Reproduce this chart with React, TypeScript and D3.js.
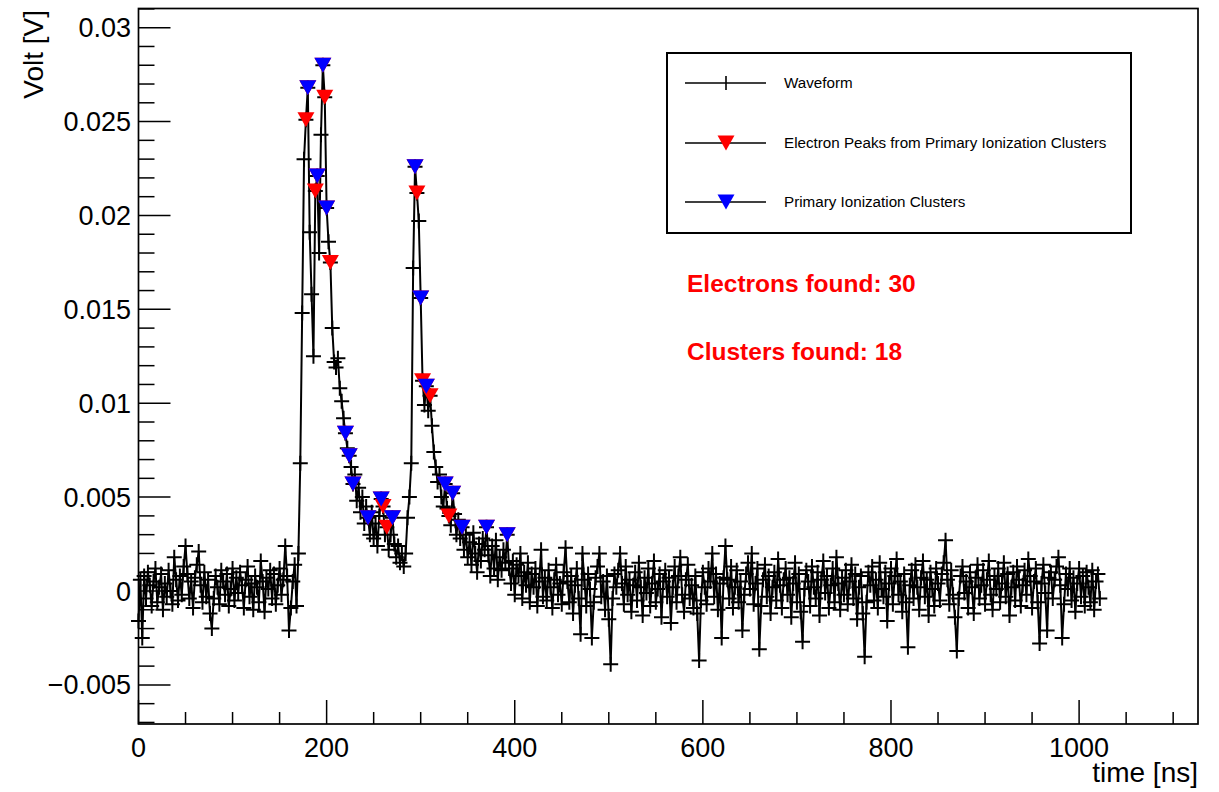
import { useRef, useEffect } from "react";
import * as d3 from "d3";

// digitiser sampling step in ns; waveform[i] is taken at t = i * sampleStepNs
const sampleStepNs = 2;

// waveform amplitude in units of 0.1 mV (1e-4 V)
const waveform = [
  // 0 ns
  -16, 6, -25, 8, -4, 10, 3, -8, 5, 12, -6, 2, 9, -10, 4, -3,
  // 32 ns
  11, 0, -7, 18, 6, -5, 8, -2, 13, 24, 9, -4, 5, -9, 7, 14,
  // 64 ns
  21, 3, -6, 10, -3, 6, -12, -20, -4, 8, 2, -7, 11, 5, -2, 9,
  // 96 ns
  -8, 1, 12, -5, 7, -1, 10, 3, -9, 6, 13, -3, 4, -10, 8, 2,
  // 128 ns
  -6, 16, 5, -11, 7, 1, 11, -4, 9, -7, 3, 12, -2, 6, 24, 8,
  // 160 ns
  -21, -9, 5, 14, -8, 20, 68, 148, 230, 251, 268, 191, 158, 125, 213, 221,
  // 192 ns
  180, 243, 280, 263, 204, 186, 175, 140, 122, 119, 124, 108, 101, 92, 84, 76,
  // 224 ns
  72, 66, 57, 62, 48, 55, 42, 50, 36, 45, 39, 30, 42, 28, 36, 24,
  // 256 ns
  40, 49, 45, 30, 34, 22, 30, 39, 25, 18, 24, 15, 20, 13, 20, 39,
  // 288 ns
  50, 68, 172, 226, 212, 197, 156, 112, 99, 109, 96, 104, 88, 74, 66, 58,
  // 320 ns
  62, 50, 45, 57, 44, 40, 35, 52, 41, 30, 38, 28, 34, 22, 30, 18,
  // 352 ns
  26, 14, 31, 20, 10, 25, 16, 28, 22, 34, 19, 8, 24, 12, 27, 6,
  // 384 ns
  18, 11, 22, 15, 30, 12, 4, 16, -2, 14, 8, 20, -4, 10, 3, 15,
  // 416 ns
  -6, 9, 2, 12, -8, 5, 22, -3, 7, -5, 11, 2, -9, 6, 14, -2,
  // 448 ns
  4, -7, 10, 23, 5, -6, 8, -12, 3, 12, -4, -23, 20, 6, -8, 9,
  // 480 ns
  1, -25, -6, 7, 13, 20, -3, 5, -10, 8, -15, -39, -4, 9, 2, 11,
  // 512 ns
  20, 4, -7, 13, -2, 6, -11, 3, 10, -5, 15, 2, -13, 7, -1, 12,
  // 544 ns
  -8, 4, 16, -6, 1, 9, -14, 5, 11, -3, 7, -17, 2, 13, -6, 8,
  // 576 ns
  18, -2, -11, 6, 14, -4, 3, -9, 8, -12, -37, -5, 10, 2, -7, 12,
  // 608 ns
  5, 20, -3, 9, -10, 4, -25, 7, 24, 6, -4, 13, -9, 2, 11, -6,
  // 640 ns
  5, -21, -2, 9, 15, 1, 20, -7, 4, 12, -31, -8, 6, 14, -3, 8,
  // 672 ns
  -12, 2, 10, -5, 17, 3, -9, 6, 12, -2, 7, -14, 4, 15, -6, 9,
  // 704 ns
  -11, -27, 1, 11, 5, -8, 13, 2, -4, 10, -13, 6, 16, -1, 8, -9,
  // 736 ns
  3, 12, -6, 18, 4, -10, 7, -2, 11, -7, 5, 14, -4, 9, -15, 2,
  // 768 ns
  8, -12, -35, -6, 10, 3, 13, -5, 6, -9, 15, 1, -3, 10, -16, 4,
  // 800 ns
  12, -7, 8, 17, -2, 5, -11, 9, -6, -30, 3, 11, -4, 14, 2, -10,
  // 832 ns
  7, 16, -3, 6, -13, 10, 1, -8, 12, 4, -5, 9, 15, 27, 6, -7,
  // 864 ns
  11, -2, -14, -32, -4, 8, 13, -1, 5, -9, 10, 2, -12, 7, 14, -4,
  // 896 ns
  3, 11, -7, 6, 16, -2, -10, 8, 1, 12, -6, 4, 15, -3, 9, -13,
  // 928 ns
  2, 10, -5, 13, 6, -8, 3, 11, -2, 17, 8, -9, 5, 12, -6, -28,
  // 960 ns
  4, 14, -1, -21, 7, 10, -4, 6, 13, 18, 3, -25, -7, 9, 1, 12,
  // 992 ns
  -5, 7, -11, 4, 12, -3, 8, -8, 10, 2, -6, 11, -10, 5, 9, -4,
];

// primary ionization clusters (blue): time in ns, amplitude in 0.1 mV
const clusterTimes = [180, 190, 196, 200, 220, 224, 228, 244, 258, 270, 294, 300, 306, 326, 334, 344, 370, 392];
const clusterVolts = [268, 221, 280, 204, 84, 72, 57, 39, 49, 39, 226, 156, 109, 57, 52, 34, 34, 30];

// electron peaks (red)
const electronTimes = [178, 180, 188, 190, 196, 198, 200, 204, 220, 224, 228, 244, 258, 260, 264, 270, 294, 296, 300, 302, 306, 310, 326, 330, 334, 344, 370, 392];
const electronVolts = [251, 268, 213, 221, 280, 263, 204, 175, 84, 72, 57, 39, 49, 45, 34, 39, 226, 212, 156, 112, 109, 104, 57, 40, 52, 34, 34, 30];

const xTicks = [0, 200, 400, 600, 800, 1000];
const xTickLabels = ["0", "200", "400", "600", "800", "1000"];
const yTicks = [-0.005, 0, 0.005, 0.01, 0.015, 0.02, 0.025, 0.03];
const yTickLabels = ["\u22120.005", "0", "0.005", "0.01", "0.015", "0.02", "0.025", "0.03"];

const legendLabels = [
  "Waveform",
  "Electron Peaks from Primary Ionization Clusters",
  "Primary Ionization Clusters",
];
const electronsFound = 30;
const clustersFound = 18;

const FONT = "'Liberation Sans', Arial, Helvetica, sans-serif";

function triangle(cx: number, cy: number) {
  return `M${cx - 8.5},${cy - 7.5}L${cx + 8.5},${cy - 7.5}L${cx},${cy + 7.5}Z`;
}

export default function App() {
  const svgRef = useRef<SVGSVGElement>(null);

  useEffect(() => {
    if (!svgRef.current) return;
    const svg = d3.select(svgRef.current);
    svg.selectAll("*").remove();

    const left = 138.5;
    const right = 1198;
    const top = 8.5;
    const bottom = 724;

    const x = d3.scaleLinear().domain([0, 1126.4]).range([left, right]);
    const y = d3.scaleLinear().domain([-0.007083, 0.031022]).range([bottom, top]);

    svg.append("rect").attr("width", 1219).attr("height", 792).attr("fill", "#fff");

    // frame
    svg
      .append("rect")
      .attr("x", left)
      .attr("y", top)
      .attr("width", right - left)
      .attr("height", bottom - top)
      .attr("fill", "none")
      .attr("stroke", "#000")
      .attr("stroke-width", 1.7);

    // y ticks, one every 1 mV, long ones every 5 mV
    const yMinor = d3.range(-7, 32);
    svg
      .append("g")
      .selectAll("line")
      .data(yMinor)
      .join("line")
      .attr("x1", left)
      .attr("x2", (k) => left + (k % 5 === 0 ? 32 : 16))
      .attr("y1", (k) => y(k * 0.001))
      .attr("y2", (k) => y(k * 0.001))
      .attr("stroke", "#000")
      .attr("stroke-width", 1.5);

    svg
      .append("g")
      .selectAll("text")
      .data(yTicks)
      .join("text")
      .attr("x", 131)
      .attr("y", (d) => y(d) + 9.5)
      .attr("text-anchor", "end")
      .attr("font-family", FONT)
      .attr("font-size", 27)
      .text((_, i) => yTickLabels[i]);

    // x ticks
    const xMinor = d3.range(0, 1126, 50);
    svg
      .append("g")
      .selectAll("line")
      .data(xMinor)
      .join("line")
      .attr("x1", (d) => x(d))
      .attr("x2", (d) => x(d))
      .attr("y1", bottom)
      .attr("y2", (d) => bottom - (d % 200 === 0 ? 24 : 12))
      .attr("stroke", "#000")
      .attr("stroke-width", 1.5);

    svg
      .append("g")
      .selectAll("text")
      .data(xTicks)
      .join("text")
      .attr("x", (d) => x(d))
      .attr("y", 757)
      .attr("text-anchor", "middle")
      .attr("font-family", FONT)
      .attr("font-size", 27)
      .text((_, i) => xTickLabels[i]);

    // axis titles
    svg
      .append("text")
      .attr("x", right)
      .attr("y", 782)
      .attr("text-anchor", "end")
      .attr("font-family", FONT)
      .attr("font-size", 28)
      .text("time [ns]");

    svg
      .append("text")
      .attr("transform", `translate(43,10) rotate(-90)`)
      .attr("text-anchor", "end")
      .attr("font-family", FONT)
      .attr("font-size", 28)
      .text("Volt [V]");

    // waveform
    const line = d3
      .line<number>()
      .x((_, i) => x(i * sampleStepNs))
      .y((d) => y(d * 1e-4));

    svg
      .append("path")
      .attr("d", line(waveform))
      .attr("fill", "none")
      .attr("stroke", "#000")
      .attr("stroke-width", 2);

    const crosses = waveform
      .map((d, i) => {
        const cx = x(i * sampleStepNs);
        const cy = y(d * 1e-4);
        return `M${cx - 7.5},${cy}H${cx + 7.5}M${cx},${cy - 7.5}V${cy + 7.5}`;
      })
      .join("");
    svg
      .append("path")
      .attr("d", crosses)
      .attr("fill", "none")
      .attr("stroke", "#000")
      .attr("stroke-width", 2);

    // electron peaks
    svg
      .append("g")
      .selectAll("path")
      .data(electronTimes)
      .join("path")
      .attr("d", (d, i) => triangle(x(d), y(electronVolts[i] * 1e-4)))
      .attr("fill", "#ff0000");

    // clusters
    svg
      .append("g")
      .selectAll("path")
      .data(clusterTimes)
      .join("path")
      .attr("d", (d, i) => triangle(x(d), y(clusterVolts[i] * 1e-4)))
      .attr("fill", "#0000ff");

    // legend
    const lg = svg.append("g");
    lg.append("rect")
      .attr("x", 667)
      .attr("y", 53)
      .attr("width", 464)
      .attr("height", 180)
      .attr("fill", "#fff")
      .attr("stroke", "#000")
      .attr("stroke-width", 2);

    const rows = [83, 143, 202];
    const colors = ["#000", "#ff0000", "#0000ff"];
    legendLabels.forEach((label, i) => {
      const ry = rows[i];
      lg.append("line")
        .attr("x1", 685)
        .attr("x2", 766)
        .attr("y1", ry)
        .attr("y2", ry)
        .attr("stroke", "#000")
        .attr("stroke-width", 1.6);
      if (i === 0) {
        lg.append("line")
          .attr("x1", 726)
          .attr("x2", 726)
          .attr("y1", ry - 7)
          .attr("y2", ry + 7)
          .attr("stroke", "#000")
          .attr("stroke-width", 1.6);
      } else {
        lg.append("path").attr("d", triangle(726, ry)).attr("fill", colors[i]);
      }
      lg.append("text")
        .attr("x", 784)
        .attr("y", ry + 5.4)
        .attr("font-family", FONT)
        .attr("font-size", 15.2)
        .text(label);
    });

    // counters
    svg
      .append("text")
      .attr("x", 687)
      .attr("y", 292)
      .attr("fill", "#ff0000")
      .attr("font-family", FONT)
      .attr("font-weight", "bold")
      .attr("font-size", 24.5)
      .text(`Electrons found: ${electronsFound}`);
    svg
      .append("text")
      .attr("x", 687)
      .attr("y", 360)
      .attr("fill", "#ff0000")
      .attr("font-family", FONT)
      .attr("font-weight", "bold")
      .attr("font-size", 24.5)
      .text(`Clusters found: ${clustersFound}`);
  }, []);

  return (
    <svg
      ref={svgRef}
      width={1219}
      height={792}
      style={{ position: "absolute", left: 0, top: 0, display: "block" }}
    />
  );
}
